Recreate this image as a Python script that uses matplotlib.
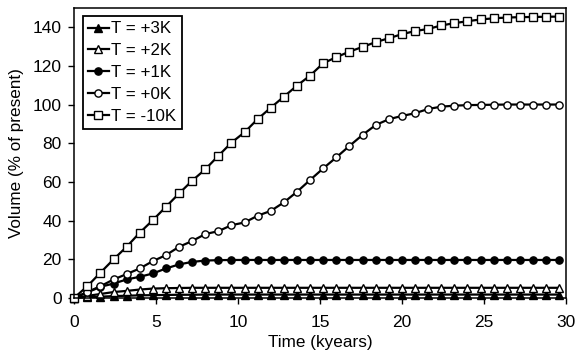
import numpy as np
import matplotlib
matplotlib.use('Agg')
import matplotlib.pyplot as plt

plt.rcParams['font.family'] = ['Liberation Sans', 'DejaVu Sans']

# time axis: one sample every 0.8 kyears
time = np.arange(38) * 0.8

t_plus3 = [0, 0.3, 0.6, 0.9, 1.1, 1.3, 1.4, 1.5, 1.6, 1.6,
           1.7, 1.7, 1.7, 1.7, 1.7, 1.7, 1.7, 1.7, 1.7, 1.7,
           1.7, 1.7, 1.7, 1.7, 1.7, 1.7, 1.7, 1.7, 1.7, 1.7,
           1.7, 1.7, 1.7, 1.7, 1.7, 1.7, 1.7, 1.7]
t_plus2 = [0, 1.0, 2.0, 3.0, 3.6, 4.3, 4.8, 5.0, 5.1, 5.2,
           5.2, 5.2, 5.2, 5.2, 5.2, 5.2, 5.2, 5.2, 5.2, 5.2,
           5.2, 5.2, 5.2, 5.2, 5.2, 5.2, 5.2, 5.2, 5.2, 5.2,
           5.2, 5.2, 5.2, 5.2, 5.2, 5.2, 5.2, 5.2]
t_plus1 = [0, 2.8, 5.7, 7.4, 9.5, 10.9, 12.6, 15.2, 17.3, 18.6,
           19.3, 19.5, 19.6, 19.6, 19.6, 19.6, 19.6, 19.6, 19.6, 19.6,
           19.6, 19.6, 19.6, 19.6, 19.6, 19.6, 19.6, 19.6, 19.6, 19.6,
           19.6, 19.6, 19.6, 19.6, 19.6, 19.6, 19.6, 19.6]
t_plus0 = [0, 3.0, 6.0, 9.5, 12.3, 15.2, 19.0, 22.1, 26.4, 29.4,
           33.0, 34.5, 37.6, 39.0, 42.5, 45.0, 49.4, 54.9, 61.0, 67.0,
           72.7, 78.6, 84.3, 89.4, 92.4, 94.1, 95.5, 97.7, 98.9, 99.4,
           99.7, 99.8, 99.9, 100, 100, 100, 100, 100]
t_minus10 = [0, 6.0, 13.0, 19.9, 26.4, 33.7, 40.2, 47.1, 54.0, 60.6,
             66.5, 73.5, 80.3, 85.7, 92.5, 98.4, 104.1, 109.8, 115.0, 121.4,
             124.5, 127.4, 129.8, 132.3, 134.3, 136.4, 138.0, 139.1, 140.9, 142.1,
             143.1, 144.0, 144.6, 145.0, 145.2, 145.3, 145.4, 145.5]

fig = plt.figure(figsize=(5.75, 3.58), dpi=100)
ax = fig.add_axes([0.129, 0.168, 0.855, 0.81])

ms = 5.2
lw = 1.6
ax.plot(time, t_plus3, '-', color='black', lw=lw, marker='^', ms=ms,
        mfc='black', mec='black', label='T = +3K', clip_on=False)
ax.plot(time, t_plus2, '-', color='black', lw=lw, marker='^', ms=ms,
        mfc='white', mec='black', mew=1.0, label='T = +2K', clip_on=False)
ax.plot(time, t_plus1, '-', color='black', lw=lw, marker='o', ms=ms,
        mfc='black', mec='black', label='T = +1K', clip_on=False)
ax.plot(time, t_plus0, '-', color='black', lw=lw, marker='o', ms=ms,
        mfc='white', mec='black', mew=1.0, label='T = +0K', clip_on=False)
ax.plot(time, t_minus10, '-', color='black', lw=lw, marker='s', ms=ms,
        mfc='white', mec='black', mew=1.0, label='T = -10K', clip_on=False)

ax.set_xlim(0, 30)
ax.set_ylim(0, 150)
ax.set_xticks([0, 5, 10, 15, 20, 25, 30])
ax.set_yticks([0, 20, 40, 60, 80, 100, 120, 140])
ax.tick_params(axis='both', direction='out', length=4, width=1, labelsize=12.5,
               top=False, right=False)
ax.tick_params(axis='x', pad=8)
ax.tick_params(axis='y', pad=5)
for s in ax.spines.values():
    s.set_linewidth(1.1)
ax.set_xlabel('Time (kyears)', fontsize=12.3, labelpad=4)
ax.set_ylabel('Volume (% of present)', fontsize=12.3, labelpad=6)

leg = ax.legend(loc='upper left', fontsize=12.2, frameon=True, fancybox=False,
                edgecolor='black', framealpha=1, handlelength=1.25,
                handletextpad=0.15, borderpad=0.3, labelspacing=0.4,
                borderaxespad=0.5)
leg.get_frame().set_linewidth(1.3)

fig.savefig('out.png', dpi=100)
